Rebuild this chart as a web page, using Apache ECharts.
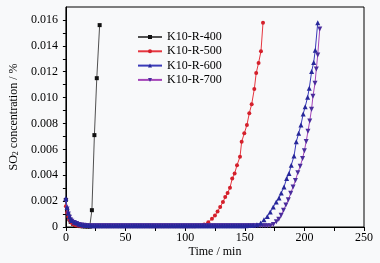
<!DOCTYPE html>
<html>
<head>
<meta charset="utf-8">
<script src="https://cdn.jsdelivr.net/npm/echarts@6/dist/echarts.min.js"></script>
<style>html,body{margin:0;padding:0;background:#f8f9fa;}#c{width:380px;height:263px;}</style>
</head>
<body>
<div id="c"></div>
<script>
// ---- data ----
const seriesNames = ['K10-R-400', 'K10-R-500', 'K10-R-600', 'K10-R-700'];
const xAxisTitle = 'Time / min';

const t400 = [0, 1, 2, 3, 4, 6, 8, 10, 12, 14, 16, 18, 20, 21.8, 23.9, 25.9, 28.3];
const v400 = [0.0021, 0.0013, 0.0009, 0.0006, 0.0004, 0.00025, 0.00015, 0.0001, 0.00007, 0.00005, 0.00004, 0.00003, 0.00003, 0.0013, 0.0071, 0.0115, 0.0156];

const t500 = [0, 1, 2, 3, 4, 5, 6, 8, 10, 12, 14,
  16, 18, 20, 22, 24, 26, 28, 30, 32, 34, 36, 38, 40, 42, 44, 46, 48, 50, 52, 54,
  56, 58, 60, 62, 64, 66, 68, 70, 72, 74, 76, 78, 80, 82, 84, 86, 88, 90, 92, 94,
  96, 98, 100, 102, 104, 106, 108, 110,
  113.3, 116, 119.4, 122.5, 125, 127.2, 129.4, 131.7, 133.6, 135.6, 137.6, 139.5, 141.5,
  143.5, 146, 147.4, 149.6, 151.8, 153.8, 155.8, 158, 159.6, 161.6, 163.6, 165.3];
const v500 = [0.0016, 0.0011, 0.0008, 0.00055, 0.0004, 0.0003, 0.00022, 0.00014, 0.0001, 0.00007, 0.00005,
  0.00005, 0.00005, 0.00005, 0.00005, 0.00005, 0.00005, 0.00005, 0.00005, 0.00005, 0.00005, 0.00005, 0.00005, 0.00005, 0.00005, 0.00005, 0.00005, 0.00005, 0.00005, 0.00005, 0.00005,
  0.00005, 0.00005, 0.00005, 0.00005, 0.00005, 0.00005, 0.00005, 0.00005, 0.00005, 0.00005, 0.00005, 0.00005, 0.00005, 0.00005, 0.00005, 0.00005, 0.00005, 0.00005, 0.00005, 0.00005,
  0.00005, 0.00005, 0.00005, 0.00005, 0.00005, 0.00006, 0.00006, 0.00007,
  0.0001, 0.0002, 0.00037, 0.00064, 0.00089, 0.0012, 0.00154, 0.00193, 0.00231, 0.00263, 0.00304, 0.00374, 0.00413,
  0.00478, 0.00542, 0.00659, 0.00724, 0.00788, 0.00879, 0.00949, 0.01066, 0.0119, 0.01268, 0.01358, 0.01578];

const t600 = [0, 1, 2, 3, 4, 5, 7, 9, 11, 13, 15,
  17, 19, 21, 23, 25, 27, 29, 31, 33, 35, 37, 39, 41, 43, 45, 47, 49, 51, 53, 55,
  57, 59, 61, 63, 65, 67, 69, 71, 73, 75, 77, 79, 81, 83, 85, 87, 89, 91, 93, 95,
  97, 99, 101, 103, 105, 107, 109, 111, 113, 115, 117, 119, 121, 123, 125, 127, 129, 131, 133, 135,
  137, 139, 141, 143, 145, 147, 149, 151, 153, 155, 157,
  160.2, 163.3, 166.1, 168.9, 171.4, 173.9, 176.4, 178.7, 180.6, 182.9, 185.1, 187.1, 189,
  191.3, 193.2, 195.2, 197.1, 199, 200.7, 202.7, 204.1, 206.1, 207.8, 209.1, 211.2];
const v600 = [0.0022, 0.0015, 0.0011, 0.0008, 0.0006, 0.0005, 0.00037, 0.0003, 0.00022, 0.00017, 0.00014,
  0.00012, 0.00011, 0.0001, 0.0001, 0.0001, 0.0001, 0.0001, 0.0001, 0.0001, 0.0001, 0.0001, 0.0001, 0.0001, 0.0001, 0.0001, 0.0001, 0.0001, 0.0001, 0.0001, 0.0001,
  0.0001, 0.0001, 0.0001, 0.0001, 0.0001, 0.0001, 0.0001, 0.0001, 0.0001, 0.0001, 0.0001, 0.0001, 0.0001, 0.0001, 0.0001, 0.0001, 0.0001, 0.0001, 0.0001, 0.0001,
  0.0001, 0.0001, 0.0001, 0.0001, 0.0001, 0.0001, 0.0001, 0.0001, 0.0001, 0.0001, 0.0001, 0.0001, 0.0001, 0.0001, 0.0001, 0.0001, 0.0001, 0.0001, 0.0001, 0.0001,
  0.0001, 0.0001, 0.0001, 0.0001, 0.0001, 0.0001, 0.0001, 0.0001, 0.00011, 0.00012, 0.00014,
  0.00017, 0.0003, 0.00056, 0.00082, 0.00115, 0.00154, 0.00193, 0.00224, 0.00263, 0.00309, 0.00374, 0.00413, 0.00478,
  0.00548, 0.00659, 0.00724, 0.00788, 0.00874, 0.0093, 0.01003, 0.01073, 0.01202, 0.01272, 0.01365, 0.01578];

const t700 = [0, 1, 2, 3, 4, 5, 7, 9, 11, 13, 15,
  17, 19, 21, 23, 25, 27, 29, 31, 33, 35, 37, 39, 41, 43, 45, 47, 49, 51, 53, 55,
  57, 59, 61, 63, 65, 67, 69, 71, 73, 75, 77, 79, 81, 83, 85, 87, 89, 91, 93, 95,
  97, 99, 101, 103, 105, 107, 109, 111, 113, 115, 117, 119, 121, 123, 125, 127, 129, 131, 133, 135,
  137, 139, 141, 143, 145, 147, 149, 151, 153, 155, 157, 159, 161, 163, 165, 167, 169,
  171.5, 174, 176.5, 178.5, 180.5, 182.5, 184.5, 186.5, 188.5, 190.5, 192.5, 194.5,
  196.5, 198.5, 200, 201.5, 203, 204.5, 206, 207.2, 208.9, 210, 211.2, 212.9];
const v700 = [0.002, 0.0014, 0.001, 0.00075, 0.00055, 0.00045, 0.00035, 0.00028, 0.0002, 0.00016, 0.00013,
  0.00011, 0.0001, 0.0001, 0.0001, 0.0001, 0.0001, 0.0001, 0.0001, 0.0001, 0.0001, 0.0001, 0.0001, 0.0001, 0.0001, 0.0001, 0.0001, 0.0001, 0.0001, 0.0001, 0.0001,
  0.0001, 0.0001, 0.0001, 0.0001, 0.0001, 0.0001, 0.0001, 0.0001, 0.0001, 0.0001, 0.0001, 0.0001, 0.0001, 0.0001, 0.0001, 0.0001, 0.0001, 0.0001, 0.0001, 0.0001,
  0.0001, 0.0001, 0.0001, 0.0001, 0.0001, 0.0001, 0.0001, 0.0001, 0.0001, 0.0001, 0.0001, 0.0001, 0.0001, 0.0001, 0.0001, 0.0001, 0.0001, 0.0001, 0.0001, 0.0001,
  0.0001, 0.0001, 0.0001, 0.0001, 0.0001, 0.0001, 0.0001, 0.0001, 0.0001, 0.0001, 0.0001, 0.0001, 0.0001, 0.0001, 0.0001, 0.0001, 0.0001,
  0.0001, 0.0002, 0.0004, 0.0006, 0.0009, 0.0013, 0.0017, 0.0021, 0.0026, 0.0031, 0.0036, 0.0042,
  0.0047, 0.0053, 0.0059, 0.0066, 0.0074, 0.0082, 0.0091, 0.0101, 0.0111, 0.0122, 0.0133, 0.0153];

const xLabelValues = [0, 50, 100, 150, 200, 250];
const yLabelValues = ['0', '0.002', '0.004', '0.006', '0.008', '0.010', '0.012', '0.014', '0.016'];

// ---- chart ----
const FONT = 'Liberation Serif';
const zip = (t, v) => t.map((x, i) => [x, v[i]]);

const styles = [
  { symbol: 'rect', size: 4, line: '#505050', mark: '#111111', z: 2 },
  { symbol: 'circle', size: 4, line: '#e5363f', mark: '#d4202b', z: 3 },
  { symbol: 'triangle', size: 5, line: '#3a3ab8', mark: '#27279a', z: 5 },
  { symbol: 'path://M0,0 L10,0 L5,9 Z', size: 5, line: '#a445b8', mark: '#4a2c9c', z: 4 }
];
const datas = [zip(t400, v400), zip(t500, v500), zip(t600, v600), zip(t700, v700)];

const richBase = { fontFamily: FONT, fontSize: 12, fontWeight: 'normal', color: '#000', lineHeight: 14, verticalAlign: 'bottom' };

const chart = echarts.init(document.getElementById('c'), null, { renderer: 'canvas' });
chart.setOption({
  animation: false,
  backgroundColor: '#f8f9fa',
  textStyle: { fontFamily: FONT, fontWeight: 'normal' },
  grid: { left: 65, right: 16, top: 7, bottom: 36, show: true, borderColor: '#000', borderWidth: 1, backgroundColor: 'transparent' },
  legend: {
    orient: 'vertical', left: 137, top: 30, padding: 0,
    itemWidth: 24, itemHeight: 5, itemGap: 0.3,
    textStyle: { fontFamily: FONT, fontSize: 12, color: '#000', lineHeight: 14 },
    data: seriesNames
  },
  graphic: [{
    type: 'text', x: 215, y: 252,
    style: { text: xAxisTitle, font: 'normal 12px "Liberation Serif"', fill: '#000', textAlign: 'center', textVerticalAlign: 'middle' }
  }],
  xAxis: {
    type: 'value', min: 0, max: 250, interval: 25,
    axisLine: { lineStyle: { color: '#000', width: 1 } },
    axisTick: { show: true, length: 4, inside: false, lineStyle: { color: '#000' } },
    splitLine: { show: false },
    axisLabel: {
      fontFamily: FONT, fontSize: 12, color: '#000', margin: 5,
      formatter: v => xLabelValues.indexOf(v) >= 0 ? String(v) : ''
    }
  },
  yAxis: {
    type: 'value', min: 0, max: 0.017, interval: 0.001,
    name: '{a|SO}{b|2}{a| concentration / %}', nameLocation: 'middle', nameGap: 44,
    nameTextStyle: {
      fontFamily: FONT, fontSize: 12, fontWeight: 'normal', color: '#000',
      rich: {
        a: richBase,
        b: { fontFamily: FONT, fontSize: 8, fontWeight: 'normal', color: '#000', lineHeight: 8, verticalAlign: 'bottom' }
      }
    },
    axisLine: { show: true, lineStyle: { color: '#000', width: 1 } },
    axisTick: { show: true, length: 3, inside: false, lineStyle: { color: '#000' } },
    splitLine: { show: false },
    axisLabel: {
      fontFamily: FONT, fontSize: 12, color: '#000', margin: 8, showMaxLabel: false,
      formatter: v => {
        const k = Math.round(v * 1000);
        return k % 2 === 0 ? yLabelValues[k / 2] || '' : '';
      }
    }
  },
  series: seriesNames.map((n, i) => ({
    name: n, type: 'line', data: datas[i],
    symbol: styles[i].symbol, symbolSize: styles[i].size, showAllSymbol: true,
    lineStyle: { color: styles[i].line, width: 1 },
    itemStyle: { color: styles[i].mark },
    z: styles[i].z
  }))
});
</script>
</body>
</html>
